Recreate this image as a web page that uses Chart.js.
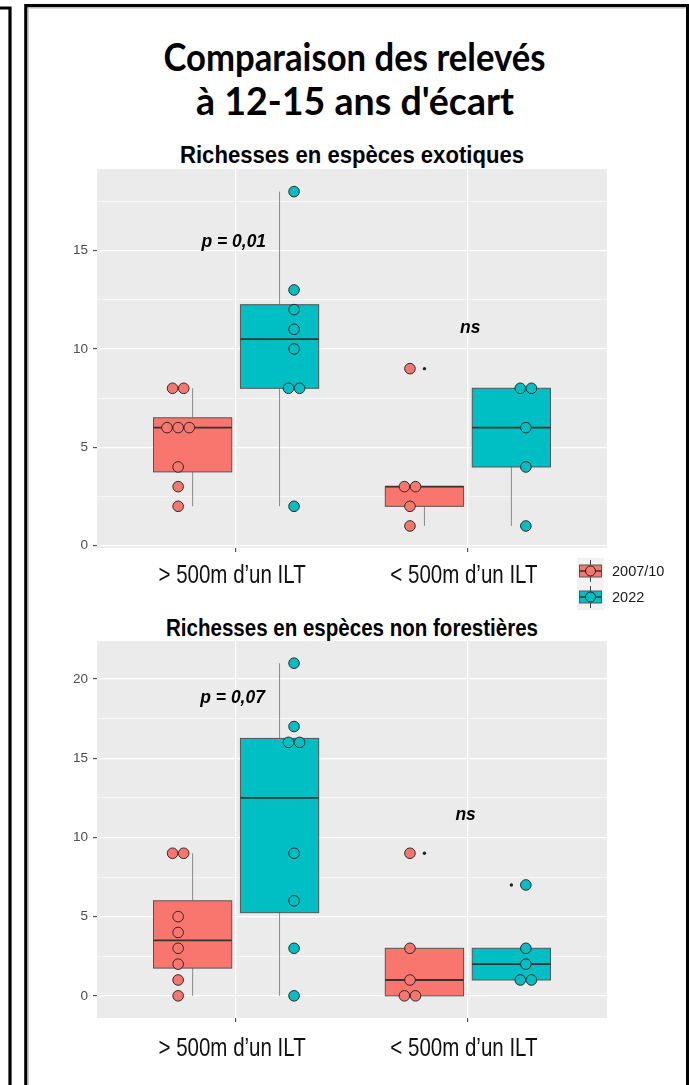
<!DOCTYPE html>
<html>
<head>
<meta charset="utf-8">
<script src="https://cdn.jsdelivr.net/npm/chart.js@4.4.1/dist/chart.umd.min.js"></script>
<style>
html,body{margin:0;padding:0;background:#fff;}
#page{position:relative;width:689px;height:1085px;overflow:hidden;background:#fff;}
canvas{position:absolute;left:0;}
svg{position:absolute;left:0;top:0;}
</style>
</head>
<body>
<div id="page">
<svg width="689" height="1085" xmlns="http://www.w3.org/2000/svg">
  <path d="M0 8 H10 V1085" stroke="#000" stroke-width="3.2" fill="none"/>
  <path d="M25.8 1085 V5.6 H687.6 V1085" stroke="#000" stroke-width="3.2" fill="none"/>
  <path d="M28.2 1085 V8 H685.5" stroke="#b5b5b5" stroke-width="1" fill="none"/>
  <text x="354.5" y="70.5" text-anchor="middle" textLength="382" lengthAdjust="spacingAndGlyphs"
        font-family="Lato, 'Open Sans', sans-serif" font-weight="700" font-size="39" fill="#000">Comparaison des relevés</text>
  <text x="355" y="114.5" text-anchor="middle" textLength="318" lengthAdjust="spacingAndGlyphs"
        font-family="Lato, 'Open Sans', sans-serif" font-weight="700" font-size="39" fill="#000">à 12-15 ans d'écart</text>
  <text x="352" y="163" text-anchor="middle" textLength="344" lengthAdjust="spacingAndGlyphs"
        font-family="'Liberation Sans', Arial, sans-serif" font-weight="700" font-size="23" fill="#000">Richesses en espèces exotiques</text>
  <text x="352" y="636" text-anchor="middle" textLength="372" lengthAdjust="spacingAndGlyphs"
        font-family="'Liberation Sans', Arial, sans-serif" font-weight="700" font-size="23" fill="#000">Richesses en espèces non forestières</text>
</svg>
<canvas id="c1" width="689" height="500" style="top:120px"></canvas>
<canvas id="c2" width="689" height="470" style="top:615px"></canvas>
</div>
<script>
// ---------------- DATA ----------------
const categories  = ["> 500m d\u2019un ILT", "< 500m d\u2019un ILT"];
const seriesNames = ["2007/10", "2022"];
const seriesColors = ["#F8766D", "#00BFC4"];

// Richesses en espèces exotiques
const exoFar2007  = [8, 8, 6, 6, 6, 4, 3, 2];
const exoFar2022  = [18, 13, 12, 11, 10, 8, 8, 2];
const exoNear2007 = [9, 3, 3, 2, 1];
const exoNear2022 = [8, 8, 6, 4, 1];
const exoTicks    = [0, 5, 10, 15];
const exoAnnot    = ["p = 0,01", "ns"];
const exoAnnotAt  = [[0.99, 15.2], [2.01, 10.8]];

// Richesses en espèces non forestières
const nfFar2007  = [9, 9, 5, 4, 3, 2, 1, 0];
const nfFar2022  = [21, 17, 16, 16, 9, 6, 3, 0];
const nfNear2007 = [9, 3, 1, 0, 0];
const nfNear2022 = [7, 3, 2, 1, 1];
const nfTicks    = [0, 5, 10, 15, 20];
const nfAnnot    = ["p = 0,07", "ns"];
const nfAnnotAt  = [[0.985, 18.5], [1.99, 11.1]];

// ---------------- STYLE ----------------
const SANS = "'Liberation Sans', Arial, sans-serif";
const BOX_OFF = [-0.1875, 0.1875];
const BOX_W = 0.3375;
const PT_OFF = [-0.25, 0.25];
const DOT_STEP = 0.048;
const CONDENSE = 0.82;

function quantile(s, p) {
  const h = (s.length - 1) * p, lo = Math.floor(h), hi = Math.ceil(h);
  return s[lo] + (h - lo) * (s[hi] - s[lo]);
}
function boxStats(vals) {
  const s = [...vals].sort((a, b) => a - b);
  const q1 = quantile(s, 0.25), med = quantile(s, 0.5), q3 = quantile(s, 0.75);
  const iqr = q3 - q1, lf = q1 - 1.5 * iqr, uf = q3 + 1.5 * iqr;
  const inside = s.filter(v => v >= lf && v <= uf);
  return { q1, med, q3, lo: Math.min(...inside), hi: Math.max(...inside), out: s.filter(v => v < lf || v > uf) };
}

const bgPlugin = {
  id: 'panelBg',
  beforeDraw(chart) {
    const { ctx, chartArea: a } = chart;
    ctx.save(); ctx.fillStyle = '#EBEBEB';
    ctx.fillRect(a.left, a.top, a.right - a.left, a.bottom - a.top);
    ctx.restore();
  }
};

const boxPlugin = {
  id: 'boxes',
  beforeDatasetsDraw(chart, args, opts) {
    const { ctx, scales: { x, y } } = chart;
    opts.groups.forEach((cat, c) => cat.forEach((vals, s) => {
      const st = boxStats(vals);
      const cx = c + 1 + BOX_OFF[s];
      const xl = x.getPixelForValue(cx - BOX_W / 2), xr = x.getPixelForValue(cx + BOX_W / 2);
      const xm = x.getPixelForValue(cx);
      const yq1 = y.getPixelForValue(st.q1), yq3 = y.getPixelForValue(st.q3);
      const ym = y.getPixelForValue(st.med), ylo = y.getPixelForValue(st.lo), yhi = y.getPixelForValue(st.hi);
      ctx.save();
      ctx.strokeStyle = '#8a8a8a'; ctx.lineWidth = 1;
      ctx.beginPath();
      ctx.moveTo(xm, yq3); ctx.lineTo(xm, yhi);
      ctx.moveTo(xm, yq1); ctx.lineTo(xm, ylo);
      ctx.stroke();
      ctx.fillStyle = seriesColors[s];
      ctx.fillRect(xl, yq3, xr - xl, yq1 - yq3);
      ctx.strokeStyle = '#555'; ctx.lineWidth = 1;
      ctx.strokeRect(xl, yq3, xr - xl, yq1 - yq3);
      ctx.strokeStyle = '#333'; ctx.lineWidth = 1.8;
      ctx.beginPath(); ctx.moveTo(xl, ym); ctx.lineTo(xr, ym); ctx.stroke();
      ctx.restore();
    }));
  }
};

const annotPlugin = {
  id: 'annots',
  afterDatasetsDraw(chart, args, opts) {
    const { ctx, scales: { x, y } } = chart;
    ctx.save();
    ctx.font = 'italic bold 19px ' + SANS;
    ctx.fillStyle = '#000'; ctx.textAlign = 'center'; ctx.textBaseline = 'alphabetic';
    opts.labels.forEach((t, i) => {
      ctx.save();
      ctx.translate(x.getPixelForValue(opts.at[i][0]), y.getPixelForValue(opts.at[i][1]));
      ctx.scale(0.92, 1);
      ctx.fillText(t, 0, 0);
      ctx.restore();
    });
    ctx.restore();
  }
};

// category labels drawn under the x scale, condensed like the original
const xLabelPlugin = {
  id: 'xLabels',
  afterDraw(chart, args, opts) {
    const { ctx, scales: { x }, chartArea: a } = chart;
    ctx.save();
    ctx.font = '25px ' + SANS; ctx.fillStyle = '#111';
    ctx.textAlign = 'center'; ctx.textBaseline = 'alphabetic';
    x.ticks.forEach(t => {
      ctx.save();
      ctx.translate(x.getPixelForValue(t.value) + opts.dx, a.bottom + opts.dy);
      ctx.scale(CONDENSE, 1);
      ctx.fillText(categories[Math.round(t.value) - 1], 0, 0);
      ctx.restore();
    });
    ctx.restore();
  }
};

const legendPlugin = {
  id: 'keyLegend',
  afterDraw(chart, args, opts) {
    if (!opts.show) return;
    const { ctx, chartArea: a } = chart;
    const left = a.right - 30, top = a.bottom + 10, kw = 27, kh = 26;
    ctx.save();
    ctx.fillStyle = '#F2F2F2';
    ctx.fillRect(left, top, kw, kh * 2);
    seriesNames.forEach((name, i) => {
      const cx = left + kw / 2, cy = top + kh * i + kh / 2;
      ctx.strokeStyle = '#444'; ctx.lineWidth = 1;
      ctx.beginPath(); ctx.moveTo(cx, cy - 11); ctx.lineTo(cx, cy + 11); ctx.stroke();
      ctx.fillStyle = seriesColors[i];
      ctx.fillRect(cx - 11, cy - 6, 22, 12);
      ctx.strokeStyle = '#555'; ctx.strokeRect(cx - 11, cy - 6, 22, 12);
      ctx.strokeStyle = '#333'; ctx.lineWidth = 1.5;
      ctx.beginPath(); ctx.moveTo(cx - 11, cy); ctx.lineTo(cx + 11, cy); ctx.stroke();
      ctx.beginPath(); ctx.arc(cx, cy, 5, 0, Math.PI * 2);
      ctx.fillStyle = seriesColors[i]; ctx.fill();
      ctx.strokeStyle = '#222'; ctx.lineWidth = 1; ctx.stroke();
      ctx.fillStyle = '#1a1a1a'; ctx.font = '14.5px ' + SANS;
      ctx.textAlign = 'left'; ctx.textBaseline = 'middle';
      ctx.fillText(name, left + kw + 8, cy + 1);
    });
    ctx.restore();
  }
};

function buildChart(canvasId, groups, yTicks, yMin, yMax, annot, annotAt, lay) {
  const datasets = [];
  seriesNames.forEach((name, s) => {
    const pts = [];
    groups.forEach((cat, c) => {
      const vals = cat[s];
      const counts = {}, seen = {};
      vals.forEach(v => { counts[v] = (counts[v] || 0) + 1; });
      vals.forEach(v => {
        const k = seen[v] = (seen[v] === undefined ? 0 : seen[v] + 1);
        pts.push({ x: c + 1 + PT_OFF[s] + (k - (counts[v] - 1) / 2) * DOT_STEP, y: v });
      });
    });
    datasets.push({
      label: name, data: pts, backgroundColor: seriesColors[s], borderColor: '#2b2b2b',
      borderWidth: 1, pointRadius: 5.3, pointHoverRadius: 5.3, showLine: false
    });
  });
  const outs = [];
  groups.forEach((cat, c) => cat.forEach((vals, s) => {
    boxStats(vals).out.forEach(v => outs.push({ x: c + 1 + BOX_OFF[s], y: v }));
  }));
  datasets.push({ label: 'out', data: outs, backgroundColor: '#222', borderWidth: 0, pointRadius: 1.7, showLine: false });

  const minors = [];
  for (let i = 0; i < yTicks.length; i++) {
    const next = i + 1 < yTicks.length ? yTicks[i + 1] : yTicks[i] + (yTicks[1] - yTicks[0]);
    const m = (yTicks[i] + next) / 2;
    if (m < yMax) minors.push(m);
  }
  const allY = [...yTicks, ...minors].sort((a, b) => a - b);
  const isMajor = c => c.tick && yTicks.includes(c.tick.value);

  return new Chart(document.getElementById(canvasId), {
    type: 'scatter',
    data: { datasets },
    options: {
      responsive: false, animation: false, events: [],
      layout: { padding: { left: 0, right: 82, top: lay.top, bottom: 0 } },
      plugins: {
        legend: { display: false }, tooltip: { enabled: false },
        boxes: { groups }, annots: { labels: annot, at: annotAt },
        keyLegend: { show: lay.legend }, xLabels: { dx: -4, dy: lay.xBase }
      },
      scales: {
        x: {
          type: 'linear', min: 0.4, max: 2.6,
          afterBuildTicks: sc => { sc.ticks = categories.map((_, i) => ({ value: i + 1 })); },
          afterFit: sc => { sc.height = lay.xh; },
          ticks: { display: false },
          grid: { color: '#FFFFFF', lineWidth: 1.3, tickColor: '#333', tickLength: 4, tickWidth: 1, drawTicks: true },
          border: { display: false }
        },
        y: {
          type: 'linear', min: yMin, max: yMax,
          afterBuildTicks: sc => { sc.ticks = allY.map(v => ({ value: v })); },
          afterFit: sc => { sc.width = 97; },
          ticks: {
            callback: v => yTicks.includes(v) ? String(v) : '', autoSkip: false,
            font: { family: SANS, size: 13.5 }, color: '#4D4D4D', padding: 5
          },
          grid: {
            color: '#FFFFFF', lineWidth: c => isMajor(c) ? 1.3 : 0.6,
            tickColor: c => isMajor(c) ? '#333' : 'rgba(0,0,0,0)', tickLength: 4, tickWidth: 1
          },
          border: { display: false }
        }
      }
    },
    plugins: [bgPlugin, boxPlugin, annotPlugin, xLabelPlugin, legendPlugin]
  });
}

buildChart('c1',
  [[exoFar2007, exoFar2022], [exoNear2007, exoNear2022]],
  exoTicks, -0.12, 19.15, exoAnnot, exoAnnotAt,
  { top: 49, xh: 72, xBase: 35, legend: true });

buildChart('c2',
  [[nfFar2007, nfFar2022], [nfNear2007, nfNear2022]],
  nfTicks, -1.4, 22.4, nfAnnot, nfAnnotAt,
  { top: 26, xh: 67, xBase: 38, legend: false });
</script>
</body>
</html>
